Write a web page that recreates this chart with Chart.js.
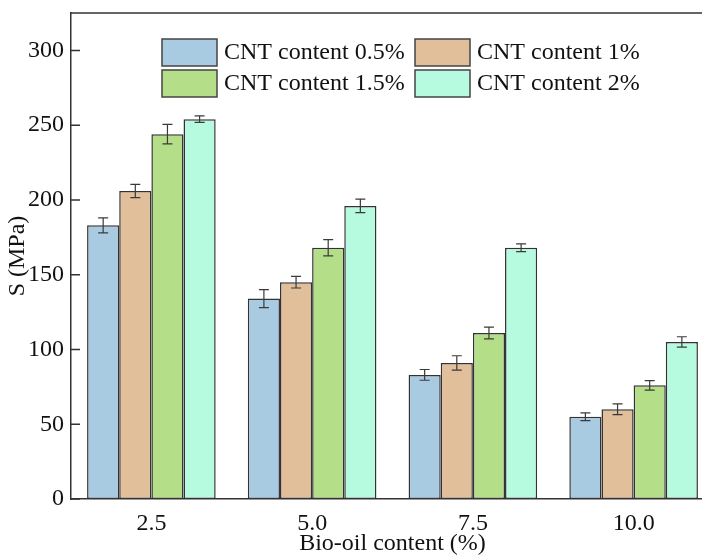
<!DOCTYPE html>
<html>
<head>
<meta charset="utf-8">
<script src="https://cdn.jsdelivr.net/npm/chart.js@4.4.1/dist/chart.umd.min.js"></script>
<style>
  html, body { margin: 0; padding: 0; background: #fff; overflow: hidden; }
  #wrap { width: 716px; height: 556px; }
</style>
</head>
<body>
<div id="wrap"><canvas id="chart" width="716" height="556"></canvas></div>
<script>
const categories = ['2.5', '5.0', '7.5', '10.0'];
const seriesLabels = ['CNT content 0.5%', 'CNT content 1%', 'CNT content 1.5%', 'CNT content 2%'];
const cnt05 = [183, 134, 83, 55];
const cnt1 = [206, 145, 91, 60];
const cnt15 = [244, 168, 111, 76];
const cnt2 = [254, 196, 168, 105];
const err05 = [5, 6, 3.6, 2.6];
const err1 = [4.4, 3.9, 4.8, 3.6];
const err15 = [6.5, 5.4, 3.9, 3.2];
const err2 = [2.2, 4.5, 2.6, 3.5];
const yTicks = [0, 50, 100, 150, 200, 250, 300];

const colors = ['#a8cbe2', '#e0bf9a', '#b4de88', '#b6fbe0'];
const serif = '"Liberation Serif", "Times New Roman", serif';

const errorBars = {
  id: 'errorBars',
  afterDatasetsDraw(chart) {
    const ctx = chart.ctx;
    const y = chart.scales.y;
    ctx.save();
    ctx.strokeStyle = '#3a3a3a';
    ctx.lineWidth = 1.2;
    chart.data.datasets.forEach((ds, i) => {
      const meta = chart.getDatasetMeta(i);
      meta.data.forEach((bar, j) => {
        const v = ds.data[j], e = ds.errors[j];
        const top = y.getPixelForValue(v + e);
        const bot = y.getPixelForValue(v - e);
        const x = bar.x;
        ctx.beginPath();
        ctx.moveTo(x, top); ctx.lineTo(x, bot);
        ctx.moveTo(x - 5, top); ctx.lineTo(x + 5, top);
        ctx.moveTo(x - 5, bot); ctx.lineTo(x + 5, bot);
        ctx.stroke();
      });
    });
    ctx.restore();
  }
};

const frame = {
  id: 'frame',
  afterDraw(chart) {
    const ctx = chart.ctx;
    const a = chart.chartArea;
    const y = chart.scales.y;
    ctx.save();
    ctx.strokeStyle = '#333';
    ctx.lineWidth = 1.5;
    ctx.beginPath();
    ctx.moveTo(a.left, a.top); ctx.lineTo(a.right, a.top);
    // inward tick marks
    y.ticks.forEach(t => {
      const py = y.getPixelForValue(t.value);
      ctx.moveTo(a.left, py); ctx.lineTo(a.left + 9, py);
    });
    ctx.stroke();

    // legend (2 x 2) inside plot
    ctx.font = '24px ' + serif;
    ctx.textBaseline = 'middle';
    const cols = [162, 415];
    const rows = [39, 70];
    chart.data.datasets.forEach((ds, i) => {
      const bx = cols[i % 2], by = rows[Math.floor(i / 2)];
      ctx.fillStyle = ds.backgroundColor;
      ctx.fillRect(bx, by, 55, 27);
      ctx.strokeStyle = '#444';
      ctx.lineWidth = 1.5;
      ctx.strokeRect(bx, by, 55, 27);
      ctx.fillStyle = '#111';
      ctx.fillText(ds.label, bx + 62, by + 14);
    });
    ctx.restore();
  }
};

new Chart(document.getElementById('chart'), {
  type: 'bar',
  data: {
    labels: categories,
    datasets: [
      { label: seriesLabels[0], data: cnt05, errors: err05, backgroundColor: colors[0] },
      { label: seriesLabels[1], data: cnt1, errors: err1, backgroundColor: colors[1] },
      { label: seriesLabels[2], data: cnt15, errors: err15, backgroundColor: colors[2] },
      { label: seriesLabels[3], data: cnt2, errors: err2, backgroundColor: colors[3] }
    ].map(d => Object.assign(d, {
      borderColor: '#333',
      borderWidth: 1.5,
      borderSkipped: false,
      categoryPercentage: 0.8,
      barPercentage: 1.0
    }))
  },
  options: {
    responsive: false,
    animation: false,
    layout: { padding: { top: 13, right: 2, left: 0, bottom: 0 } },
    plugins: {
      legend: { display: false },
      tooltip: { enabled: false }
    },
    scales: {
      x: {
        grid: { display: false, drawTicks: false },
        border: { display: true, color: '#333', width: 1.5 },
        ticks: { color: '#111', font: { family: serif, size: 24 }, padding: 10 },
        title: {
          display: true, text: 'Bio-oil content (%)', color: '#111',
          font: { family: serif, size: 24, lineHeight: 1 }, padding: { top: 0, bottom: 0 }
        },
        afterFit(scale) { scale.height = 57; scale.paddingLeft = 0; scale.paddingRight = 0; }
      },
      y: {
        min: 0, max: 325,
        grid: { display: false, drawTicks: false },
        border: { display: true, color: '#333', width: 1.5 },
        ticks: { color: '#111', font: { family: serif, size: 24 }, padding: 7, stepSize: 50 },
        afterBuildTicks(scale) { scale.ticks = yTicks.map(v => ({ value: v })); },
        title: {
          display: true, text: 'S (MPa)', color: '#111',
          font: { family: serif, size: 24, lineHeight: 1 }, padding: { top: 6, bottom: 0 }
        },
        afterFit(scale) { scale.width = 71; scale.paddingTop = 0; scale.paddingBottom = 0; }
      }
    }
  },
  plugins: [errorBars, frame]
});
</script>
</body>
</html>
